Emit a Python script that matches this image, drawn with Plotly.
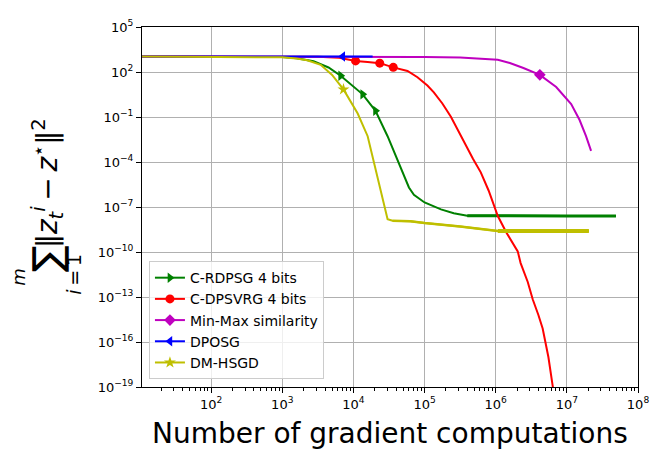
import plotly.graph_objects as go

# C-RDPSG 4 bits
crdpsg_x = [10.7, 316, 1000, 1585, 2754, 4467, 6607, 13490, 20420, 30200, 44670, 60260,
            70790, 1e5, 1.7e5, 2.57e5, 3.98e5, 1e6, 1e7, 4.9e7]
crdpsg_y = [1072, 1072, 1000, 832, 525, 200, 56.2, 3.24, 0.257, 5.25e-3, 6.31e-5, 2.0e-6,
            6.46e-7, 2.0e-7, 6.92e-8, 3.8e-8, 2.63e-8, 2.51e-8, 2.51e-8, 2.51e-8]
crdpsg_marks = [6, 7, 8]

# C-DPSVRG 4 bits
cdpsvrg_x = [10.7, 3162, 6310, 10720, 15850, 23440, 36310, 57540, 79430, 109600, 134900,
             177800, 234400, 323600, 478600, 616600, 794300, 1.07e6, 1.41e6, 2.04e6, 2.24e6,
             2.82e6, 3.31e6, 3.98e6, 4.57e6, 5.5e6, 6.31e6, 7.08e6]
cdpsvrg_y = [1072, 1047, 891, 550, 457, 389, 204, 117, 44.7, 12.6, 4.37, 0.794, 0.105,
             5.25e-3, 1.66e-4, 2.04e-5, 1.26e-6, 2.51e-8, 2.0e-9, 1.1e-10, 1.82e-11, 1e-12,
             7.08e-14, 6.3e-15, 7.94e-16, 1e-17, 1e-19, 3.16e-21]
cdpsvrg_marks = [3, 5, 6]

# Min-Max similarity
minmax_x = [10.7, 1e4, 1e5, 3.16e5, 6.31e5, 1.07e6, 1.58e6, 2.45e6, 4.17e6, 7.08e6,
            1.15e7, 1.51e7, 1.86e7, 2.19e7]
minmax_y = [1072, 1072, 1000, 912, 794, 646, 398, 186, 64.6, 10, 0.724, 0.063, 5.25e-3, 5.5e-4]
minmax_marks = [8]

# DPOSG
dposg_x = [10.7, 1000, 7080, 18620]
dposg_y = [1072, 1072, 1072, 1072]
dposg_marks = [2]

# DM-HSGD
dmhsgd_x = [10.7, 631, 1000, 1585, 2239, 3467, 5012, 7244, 11480, 15850, 21380, 26920,
            30200, 35480, 63100, 1e5, 3.16e5, 1.07e6, 3.16e6, 2.04e7]
dmhsgd_y = [1072, 1072, 955, 794, 603, 302, 63.1, 6.92, 0.17, 5.25e-3, 1.29e-5, 1.26e-7,
            1.55e-8, 1.2e-8, 1.12e-8, 8.5e-9, 5.0e-9, 2.5e-9, 2.4e-9, 2.5e-9]
dmhsgd_marks = [7]

x_tick_exp = [2, 3, 4, 5, 6, 7, 8]
y_tick_exp = [5, 2, -1, -4, -7, -10, -13, -16, -19]


def sup_label(p):
    return "10<sup>" + str(p).replace("-", "\u2212") + "</sup>"


series = [
    ("C-RDPSG 4 bits", crdpsg_x, crdpsg_y, crdpsg_marks, "#008000", "triangle-right"),
    ("C-DPSVRG 4 bits", cdpsvrg_x, cdpsvrg_y, cdpsvrg_marks, "#ff0000", "circle"),
    ("Min-Max similarity", minmax_x, minmax_y, minmax_marks, "#bf00bf", "diamond"),
    ("DPOSG", dposg_x, dposg_y, dposg_marks, "#0000ff", "triangle-left"),
    ("DM-HSGD", dmhsgd_x, dmhsgd_y, dmhsgd_marks, "#bfbf00", "star"),
]

# the flat noisy tails look thicker in the original
tails = {"C-RDPSG 4 bits": [(16, 3)], "DM-HSGD": [(13, 2.6), (17, 4)]}

fig = go.Figure()
for name, xs, ys, marks, color, symbol in series:
    fig.add_trace(go.Scatter(
        x=xs, y=ys, name=name, mode="lines+markers",
        line=dict(color=color, width=2),
        marker=dict(symbol=symbol, color=color, size=9),
        selectedpoints=marks,
        selected=dict(marker=dict(opacity=1)),
        unselected=dict(marker=dict(opacity=0)),
    ))
    for start, w in tails.get(name, []):
        fig.add_trace(go.Scatter(
            x=xs[start:], y=ys[start:], mode="lines", showlegend=False,
            line=dict(color=color, width=w), hoverinfo="skip",
        ))

minor_x = [k * 10 ** d for d in range(1, 8) for k in range(2, 10) if k * 10 ** d > 10.7]

axis_common = dict(
    type="log", showgrid=True, gridcolor="#b0b0b0", gridwidth=1,
    showline=True, linecolor="black", linewidth=1, mirror=True,
    ticks="outside", ticklen=5, tickcolor="black", zeroline=False,
    tickfont=dict(size=13, color="black"),
)

fig.update_xaxes(
    range=[1.028, 8.0],
    tickvals=[10 ** p for p in x_tick_exp],
    ticktext=[sup_label(p) for p in x_tick_exp],
    minor=dict(tickvals=minor_x, ticks="outside", ticklen=2.5, tickcolor="black", showgrid=False),
    **axis_common,
)
fig.update_yaxes(
    range=[-19, 5],
    tickvals=[10.0 ** p for p in y_tick_exp],
    ticktext=[sup_label(p) for p in y_tick_exp],
    **axis_common,
)

# plot area is 369 px tall, its left edge sits at x=142 on the page
def py(y_px):
    return (387 - y_px) / 369


def label(text, x_px, y_px, size):
    fig.add_annotation(
        text=text, xref="paper", yref="paper", x=0, y=py(y_px), xshift=x_px - 142,
        xanchor="center", yanchor="middle", textangle=-90, showarrow=False,
        borderpad=0, font=dict(size=size, color="black"),
    )


fig.add_annotation(
    text="Number of gradient computations",
    xref="paper", yref="paper", x=0.5, y=0, yshift=-46,
    xanchor="center", yanchor="middle", showarrow=False,
    font=dict(size=28, color="black"),
)
label("\u2211", 47, 256, 40)
label("<i>m</i>", 19, 274, 18)
label("<i>i</i>\u2009=\u20091", 74, 272, 19)
label("\u2016<i>z</i><sub><i>t</i></sub><sup><i>i</i></sup>\u2009\u2212\u2009<i>z</i>"
      "<sup>\u22c6</sup>\u2016<sup>2</sup>", 47, 178, 28)

fig.update_layout(
    width=660, height=459,
    # the page body adds an 8 px offset, so the margins are shifted back by it
    margin=dict(l=134, r=30, t=10, b=80),
    paper_bgcolor="white", plot_bgcolor="white",
    font=dict(family="DejaVu Sans", color="black"),
    legend=dict(
        x=0.014, y=0.022, xanchor="left", yanchor="bottom",
        bgcolor="rgba(255,255,255,0.8)", bordercolor="#cccccc", borderwidth=1,
        font=dict(size=14), tracegroupgap=0,
    ),
    showlegend=True,
)

fig.write_html("out.html")
